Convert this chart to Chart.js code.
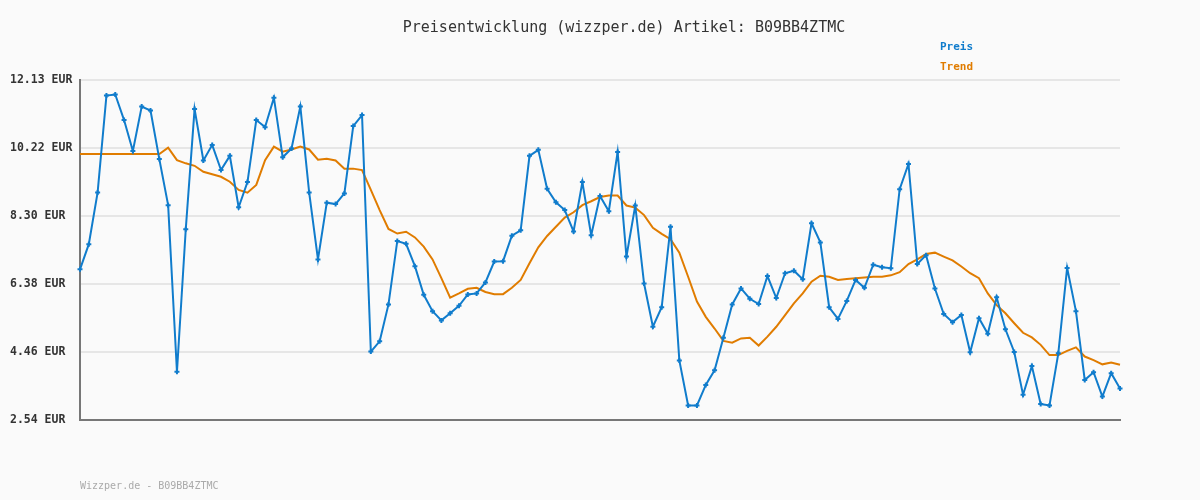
<!DOCTYPE html>
<html lang="de">
<head>
<meta charset="utf-8">
<title>Preisentwicklung B09BB4ZTMC</title>
<style>
html, body { margin:0; padding:0; background:#fafafa; }
#wrap { position:relative; width:1200px; height:500px; }
#title { position:absolute; left:0; width:1248px; top:18px; text-align:center; font:15px "DejaVu Sans Mono", monospace; color:#333; }
.legend { position:absolute; left:940px; font:bold 11px "DejaVu Sans Mono", monospace; }
#leg-preis { top:40px; color:#107ccc; }
#leg-trend { top:60px; color:#e07c00; }
#footer { position:absolute; left:80px; top:480px; font:10px "DejaVu Sans Mono", monospace; color:#aaa; }
</style>
</head>
<body>
<div id="wrap">
<canvas id="priceChart" width="1200" height="500"></canvas>
<div id="title">Preisentwicklung (wizzper.de) Artikel: B09BB4ZTMC</div>
<div class="legend" id="leg-preis">Preis</div>
<div class="legend" id="leg-trend">Trend</div>
<div id="footer">Wizzper.de - B09BB4ZTMC</div>
</div>
<script src="https://cdn.jsdelivr.net/npm/chart.js@4.4.1/dist/chart.umd.min.js"></script>
<script>
// price per day
const preisWerte = [
  6.79, 7.50, 8.96, 11.69, 11.72, 11.00, 10.13, 11.38, 11.27, 9.90,
  8.60, 3.90, 7.92, 11.31, 9.86, 10.30, 9.59, 9.99, 8.54, 9.25,
  11.00, 10.80, 11.63, 9.95, 10.20, 11.38, 8.96, 7.07, 8.67, 8.63,
  8.93, 10.83, 11.14, 4.47, 4.76, 5.80, 7.59, 7.51, 6.88, 6.07,
  5.61, 5.35, 5.55, 5.76, 6.08, 6.11, 6.42, 7.01, 7.02, 7.74,
  7.89, 9.99, 10.16, 9.06, 8.68, 8.46, 7.86, 9.25, 7.75, 8.86,
  8.43, 10.10, 7.15, 8.59, 6.39, 5.17, 5.72, 7.99, 4.22, 2.95,
  2.95, 3.53, 3.94, 4.86, 5.80, 6.25, 5.96, 5.81, 6.60, 5.98,
  6.68, 6.75, 6.51, 8.09, 7.55, 5.72, 5.39, 5.90, 6.49, 6.27,
  6.92, 6.85, 6.82, 9.05, 9.76, 6.94, 7.19, 6.25, 5.53, 5.30,
  5.50, 4.45, 5.41, 4.97, 6.00, 5.10, 4.46, 3.25, 4.06, 2.99,
  2.95, 4.42, 6.83, 5.61, 3.67, 3.89, 3.20, 3.86, 3.43
];
const trendWerte = [
  10.04, 10.04, 10.04, 10.04, 10.04, 10.04, 10.04, 10.04, 10.04, 10.04,
  10.22, 9.87, 9.78, 9.71, 9.54, 9.47, 9.40, 9.26, 9.03, 8.95,
  9.17, 9.87, 10.25, 10.11, 10.17, 10.25, 10.17, 9.88, 9.91, 9.86,
  9.63, 9.63, 9.59, 9.03, 8.46, 7.93, 7.80, 7.85, 7.69, 7.43,
  7.07, 6.54, 5.99, 6.11, 6.24, 6.27, 6.15, 6.09, 6.09, 6.27,
  6.49, 6.96, 7.41, 7.73, 7.99, 8.25, 8.40, 8.60, 8.71, 8.83,
  8.87, 8.87, 8.59, 8.53, 8.32, 7.96, 7.79, 7.64, 7.26, 6.58,
  5.88, 5.45, 5.12, 4.77, 4.72, 4.84, 4.86, 4.64, 4.89, 5.17,
  5.50, 5.83, 6.11, 6.44, 6.61, 6.58, 6.49, 6.52, 6.54, 6.56,
  6.58, 6.58, 6.62, 6.71, 6.94, 7.07, 7.22, 7.26, 7.15, 7.04,
  6.87, 6.68, 6.54, 6.11, 5.78, 5.55, 5.27, 5.00, 4.87, 4.66,
  4.37, 4.37, 4.49, 4.59, 4.33, 4.23, 4.11, 4.16, 4.10
];
const yTickWerte = [2.54, 4.46, 6.38, 8.30, 10.22, 12.13];
const tage = preisWerte.map((_, i) => String(i + 1));

const mono = '"DejaVu Sans Mono", monospace';

const ctx = document.getElementById('priceChart').getContext('2d');
const chart = new Chart(ctx, {
    type: 'line',
    data: {
        labels: tage,
        datasets: [{
            label: 'Preis',
            data: preisWerte,
            borderColor: '#107ccc',
            backgroundColor: '#107ccc',
            borderWidth: 2,
            pointStyle: 'cross',
            pointRadius: 2.5,
            pointBorderWidth: 2,
            tension: 0,
            order: 1
        },{
            label: 'Trend',
            data: trendWerte,
            borderColor: '#e07c00',
            borderWidth: 2,
            pointRadius: 0,
            tension: 0,
            order: 2
        }]
    },
    options: {
        responsive: false,
        animation: false,
        layout: { padding: { left: 10, right: 80, bottom: 80, top: 80 } },
        plugins: {
            legend: { display: false },
            tooltip: { enabled: false },
            title: { display: false }
        },
        scales: {
            x: {
                offset: false,
                grid: { display: false },
                ticks: { display: false },
                border: { color: '#777', width: 2 },
                afterFit: s => { s.height = 0; }
            },
            y: {
                min: 2.54,
                max: 12.13,
                afterBuildTicks: s => { s.ticks = yTickWerte.map(v => ({ value: v })); },
                afterFit: s => { s.width = 70; },
                ticks: {
                    crossAlign: 'far',
                    color: '#333',
                    font: { family: mono, size: 11.5, weight: 'bold' },
                    callback: v => v.toFixed(2) + ' EUR'
                },
                grid: { color: '#e6e6e6', lineWidth: 2, drawTicks: false },
                border: { color: '#777', width: 2 }
            }
        }
    }
});
</script>
</body>
</html>
